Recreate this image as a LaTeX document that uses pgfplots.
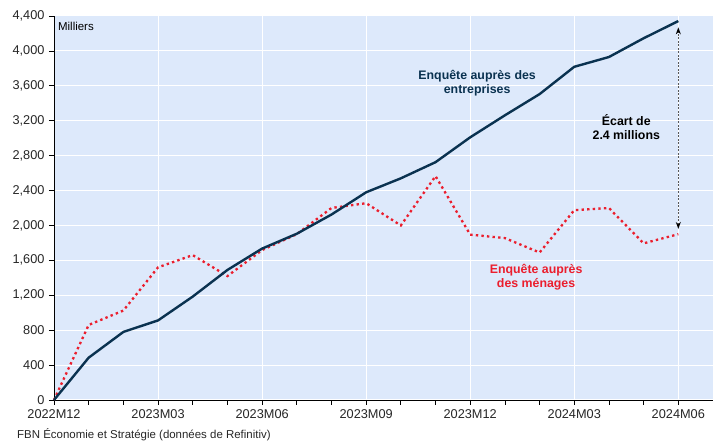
\documentclass[border=0pt]{standalone}
\usepackage{pgfplots}
\pgfplotsset{compat=1.18}
\usepackage{fontspec}
\setmainfont{Liberation Sans}
\usetikzlibrary{arrows.meta}
\definecolor{bgblue}{RGB}{221,233,251}
\definecolor{redline}{RGB}{235,30,45}
\definecolor{navy}{RGB}{10,50,80}
\pgfplotstableread{
x ent men
0 0 0
1 485 860
2 780 1025
3 912 1520
4 1185 1660
5 1490 1420
6 1735 1718
7 1905 1900
8 2125 2200
9 2380 2255
10 2540 2000
11 2725 2565
12 3010 1895
13 3262 1855
14 3505 1690
15 3818 2175
16 3930 2200
17 4145 1795
18 4342 1900
}\datatable
\begin{document}
\begin{tikzpicture}
\useasboundingbox (0,0) rectangle (721bp,441bp);
\begin{axis}[
  at={(54bp,41bp)}, anchor=south west,
  scale only axis, width=659bp, height=384bp,
  xmin=0, xmax=19, ymin=0, ymax=4400,
  axis lines*=left,
  axis line style={black, line width=0.9bp},
  axis background/.style={fill=bgblue},
  xtick={0,3,...,18},
  xticklabels={2022M12,2023M03,2023M06,2023M09,2023M12,2024M03,2024M06},
  minor xtick={1,2,4,5,7,8,10,11,13,14,16,17},
  ytick={0,400,...,4400},
  tick align=outside,
  major tick length=5bp, minor tick length=5bp,
  tick style={black, line width=0.7bp},
  grid=major,
  major grid style={white, line width=1bp},
  minor grid style={draw=none},
  ticklabel style={font=\fontsize{12.8}{14}\selectfont, text=black!85},
  xticklabel style={yshift=-1bp},
  yticklabel style={xshift=-1bp},
  /pgf/number format/.cd, 1000 sep={,}, assume math mode=true,
  clip=false,
]
\addplot[redline, line width=2.3bp, dash pattern=on 2.4bp off 3.2bp] table[x=x,y=men]{\datatable};
\addplot[navy, line width=2.4bp] table[x=x,y=ent]{\datatable};
\draw[black!65, line width=1.1bp, dash pattern=on 2bp off 1.5bp, {Stealth[length=7bp,width=5bp,black]}-{Stealth[length=7bp,width=5bp,black]}] (axis cs:18,1960) -- (axis cs:18,4270);
\node[font=\fontsize{12.4}{14.5}\selectfont\bfseries, align=center, text=black] at (axis cs:16.5,3127) {Écart de\\2.4 millions};
\node[font=\fontsize{12.4}{14.5}\selectfont\bfseries, align=center, text=navy] at (axis cs:12.2,3630) {Enquête auprès des\\entreprises};
\node[font=\fontsize{12.4}{14.5}\selectfont\bfseries, align=center, text=redline] at (axis cs:13.9,1410) {Enquête auprès\\des ménages};
\node[font=\fontsize{11.5}{13}\selectfont, anchor=west, inner sep=0pt] at (rel axis cs:0.006,0.974) {Milliers};
\end{axis}
\node[font=\fontsize{11.5}{13}\selectfont, anchor=west, inner sep=0pt, text=black!85] at (17bp,6bp) {FBN Économie et Stratégie (données de Refinitiv)};
\end{tikzpicture}
\end{document}
